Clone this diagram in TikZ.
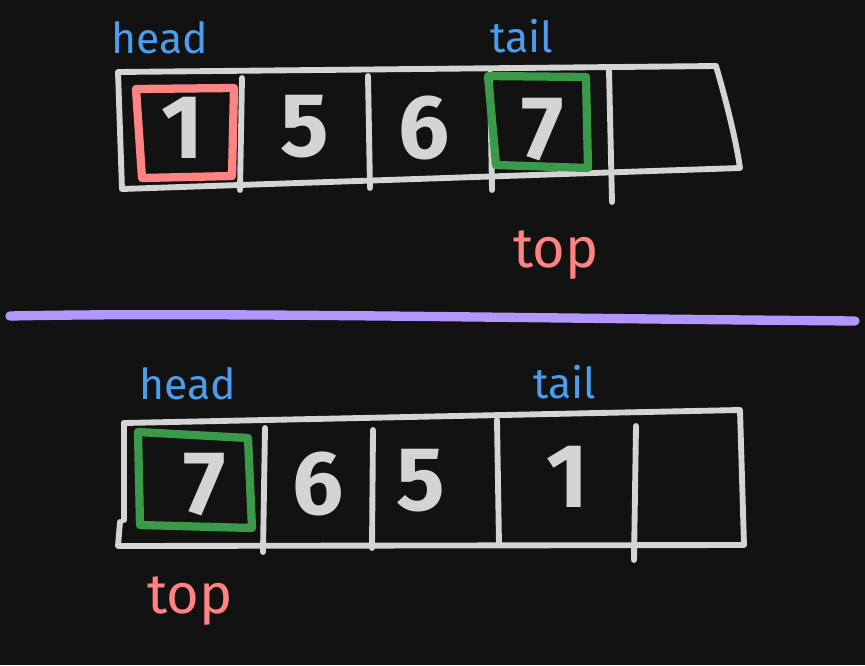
\documentclass[tikz,border=0pt]{standalone}
\usepackage{fontspec}
\setmainfont{Fira Sans}
\definecolor{bg}{HTML}{121212}
\definecolor{ink}{HTML}{D4D4D4}
\definecolor{lblue}{HTML}{4A9EED}
\definecolor{lred}{HTML}{FF8383}
\definecolor{lgreen}{HTML}{3A9A4A}
\definecolor{lviolet}{HTML}{B197FC}
\begin{document}
\begin{tikzpicture}[x=0.75pt,y=-0.75pt,
  outline/.style={draw=ink,line width=4.4pt,line cap=round,line join=round},
  redbox/.style={draw=lred,line width=6.2pt,line cap=round,line join=round},
  greenbox/.style={draw=lgreen,line width=6.2pt,line cap=round,line join=round},
  digit/.style={text=ink,font=\fontsize{68}{68}\selectfont\bfseries,inner sep=0pt},
  lbl/.style={text=lblue,font=\fontsize{32}{32}\selectfont,inner sep=0pt},
  toplbl/.style={text=lred,font=\fontsize{42}{42}\selectfont,inner sep=0pt}]
\fill[bg] (0,0) rectangle (865,665);
\useasboundingbox (0,0) rectangle (865,665);
% ---------- top array ----------
\draw[outline] (118,72) -- (716,66) .. controls (726,100) and (736,140) .. (740,168) -- (122,189) -- cycle;
\draw[outline] (242,78) -- (240,190);
\draw[outline] (368,76) -- (370,188);
\draw[outline] (490,73) -- (492,190);
\draw[outline] (609,70) -- (612,202);
\draw[redbox] (136,89) -- (234,88) -- (232,176) -- (142,178) -- cycle;
\draw[greenbox] (488,76) -- (586,77) -- (588,168) -- (496,165) -- cycle;
\node[digit] (t1) at (183,128) {1};
\node[digit] (t5) at (305,127) {5};
\node[digit] (t6) at (424,128) {6};
\node[digit] (t7) at (543,130) {7};
\node[lbl] (th) at (160,38) {head};
\node[lbl] (tt) at (522,36) {tail};
\node[toplbl] (ttop) at (556,255) {top};
% ---------- divider ----------
\draw[draw=lviolet,line width=7pt,line cap=round] (10,316) .. controls (200,312) and (500,318) .. (855,321);
% ---------- bottom array ----------
\draw[outline] (124,423) -- (740,410) -- (744,545) -- (118,546) -- (120,522);
\draw[outline] (124,423) -- (124,520);
\draw[outline] (265,428) -- (263,552);
\draw[outline] (373,430) -- (372,548);
\draw[outline] (497,420) -- (499,545);
\draw[outline] (636,426) -- (634,560);
\draw[greenbox] (138,432) -- (248,438) -- (252,528) -- (140,525) -- cycle;
\node[digit] (b7) at (205,485) {7};
\node[digit] (b6) at (318,484) {6};
\node[digit] (b5) at (421,481) {5};
\node[digit] (b1) at (568,477) {1};
\node[lbl] (bh) at (188,384) {head};
\node[lbl] (bt) at (565,382) {tail};
\node[toplbl] (btop) at (190,601) {top};
\end{tikzpicture}
\end{document}
